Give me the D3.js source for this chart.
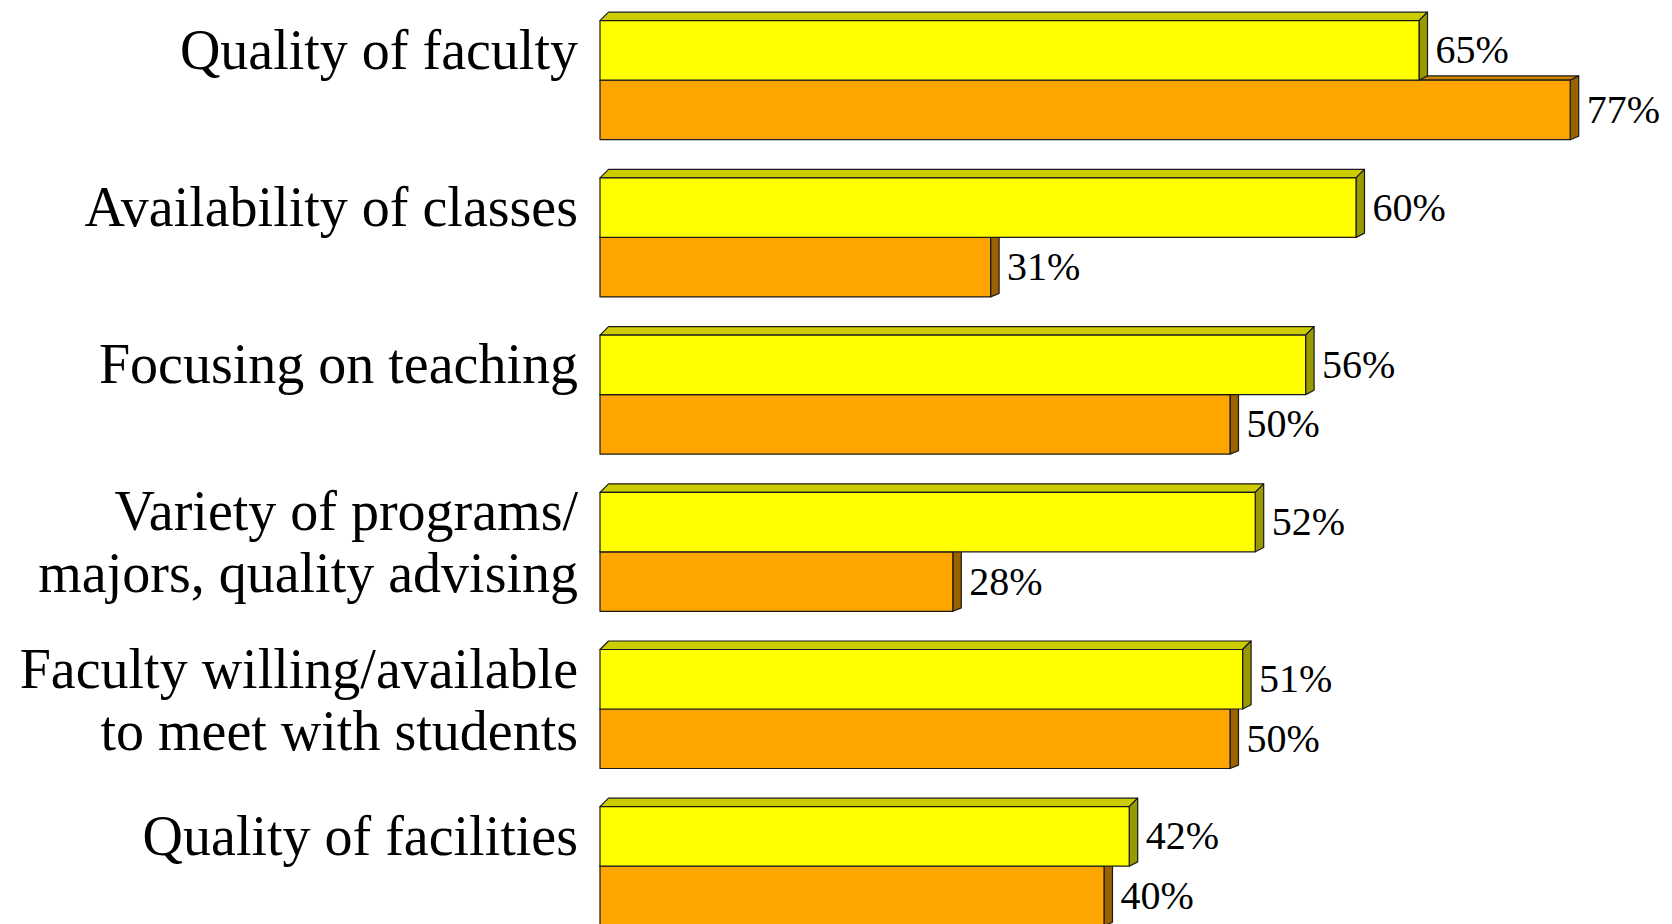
<!DOCTYPE html>
<html>
<head>
<meta charset="utf-8">
<script src="https://cdnjs.cloudflare.com/ajax/libs/d3/7.8.5/d3.min.js"></script>
<style>
	html,body{margin:0;padding:0;background:#fff;overflow:hidden;}
	svg{display:block;}
</style>
</head>
<body>
<div id="chart_div"></div>
<script>

////////////////////////////////////////
////////////////////////////////////////
////////////////////////////////////////

var categories = [
	'Quality of faculty',
	'Availability of classes',
	'Focusing on teaching',
	'Variety of programs/\nmajors, quality advising',
	'Faculty willing/available\nto meet with students',
	'Quality of facilities'
];
var seriesNames = ['series1','series2'];
var series1 = [65,60,56,52,51,42];
var series2 = [77,31,50,28,50,40];

var chart_w = 1672;
var chart_h = 924;

var bar_left = 600;
var bar_right = 1860;
var band_top = 20.7;
var band_step = 157.2;
var band_pad = 0.243;

var depth_x = 8.5;
var depth_y = {series1:[8.5,4.3],series2:[4.3,3.4]};

var faceColors = {
	series1:{front:'#ffff00',top:'#cccc00',side:'#999900'},
	series2:{front:'#ffa500',top:'#cc8400',side:'#9a6300'}
};

////////////////////////////////////////
////////////////////////////////////////
////////////////////////////////////////

var chartSVG = d3.select('#chart_div').append('svg')
	.attr('width',chart_w)
	.attr('height',chart_h);

var x = d3.scaleLinear()
	.domain([0,100])
	.range([bar_left,bar_right]);

var y = d3.scaleBand()
	.domain(categories)
	.range([band_top,band_top+band_step*(categories.length-band_pad)])
	.paddingInner(band_pad)
	.paddingOuter(0);

var ySub = d3.scaleBand()
	.domain(seriesNames)
	.range([0,y.bandwidth()]);

var rows = categories.map(function(c,i){
	return {cat:c,values:[
		{key:'series1',value:series1[i]},
		{key:'series2',value:series2[i]}
	]};
});

// category labels
var labels = chartSVG.append('g')
	.attr('font-family','"Liberation Serif","Times New Roman",serif')
	.attr('font-size',56)
	.attr('fill','black')
	.attr('text-anchor','end');

labels.selectAll('text')
	.data(categories)
	.enter()
	.append('text')
	.attr('x',578)
	.attr('y',function(d){
		var n = d.split('\n').length;
		return y(d)+48-(n-1)*10;
	})
	.each(function(d){
		var lines = d.split('\n');
		d3.select(this).selectAll('tspan')
			.data(lines)
			.enter()
			.append('tspan')
			.attr('x',578)
			.attr('dy',function(l,i){return i ? 62 : 0;})
			.text(function(l){return l;});
	});

////////////////////////////////////////
////////////////////////////////////////
////////////////////////////////////////

function barFaces(key,value,cat){
	var x0 = x(0);
	var x1 = x(value);
	var t = y(cat)+ySub(key);
	var b = t+ySub.bandwidth();
	var dt = depth_y[key][0];
	var db = depth_y[key][1];
	return [
		{face:'top',pts:[[x0,t],[x0+depth_x,t-dt],[x1+depth_x,t-dt],[x1,t]]},
		{face:'side',pts:[[x1,t],[x1+depth_x,t-dt],[x1+depth_x,b-db],[x1,b]]},
		{face:'front',pts:[[x0,t],[x1,t],[x1,b],[x0,b]]}
	];
}

var groups = chartSVG.append('g').selectAll('g')
	.data(rows)
	.enter()
	.append('g');

// draw the lower bar first so the upper one sits over its top face
groups.selectAll('g')
	.data(function(d){
		return d.values.slice().reverse().map(function(v){
			return {cat:d.cat,key:v.key,value:v.value};
		});
	})
	.enter()
	.append('g')
	.selectAll('polygon')
	.data(function(d){return barFaces(d.key,d.value,d.cat).map(function(f){f.key=d.key;return f;});})
	.enter()
	.append('polygon')
	.attr('points',function(f){return f.pts.map(function(p){return p.join(',');}).join(' ');})
	.attr('fill',function(f){return faceColors[f.key][f.face];})
	.attr('stroke','#1a1a1a')
	.attr('stroke-width',1.2)
	.attr('stroke-linejoin','round');

// value labels
chartSVG.append('g')
	.attr('font-family','"Liberation Serif","Times New Roman",serif')
	.attr('font-size',40)
	.attr('fill','black')
	.selectAll('text')
	.data(d3.merge(rows.map(function(d){
		return d.values.map(function(v){return {cat:d.cat,key:v.key,value:v.value};});
	})))
	.enter()
	.append('text')
	.attr('x',function(d){return x(d.value)+depth_x+8;})
	.attr('y',function(d){return y(d.cat)+ySub(d.key)+ySub.bandwidth()/2+13;})
	.text(function(d){return d.value+'%';});

////////////////////////////////////////
////////////////////////////////////////
////////////////////////////////////////
</script>
</body>
</html>
